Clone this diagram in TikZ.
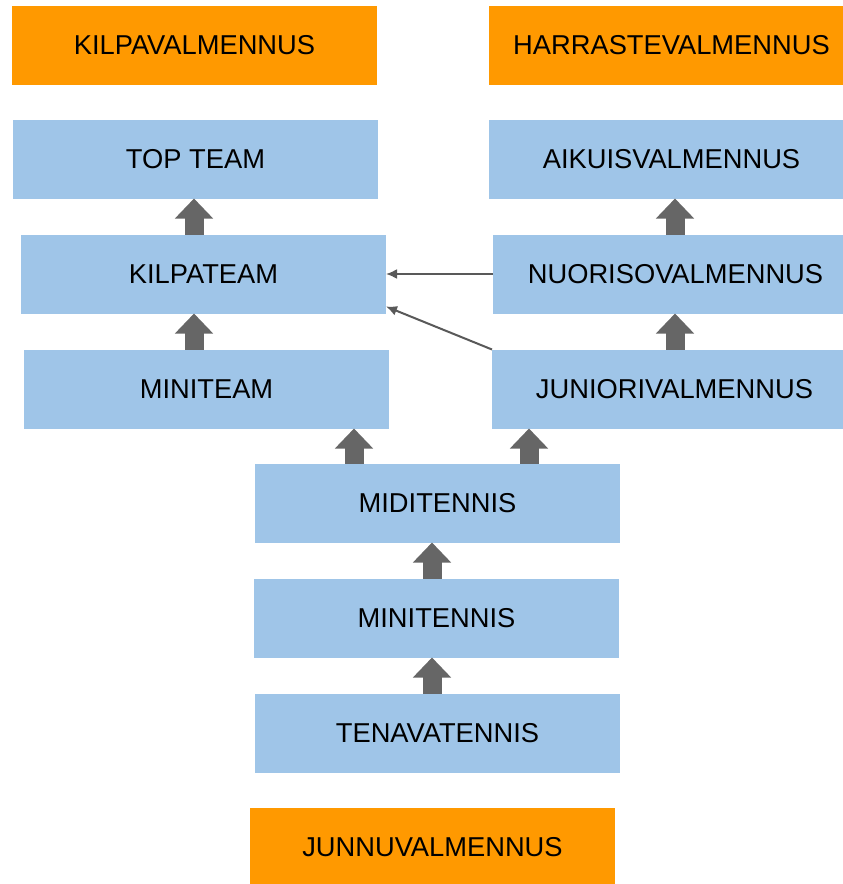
\documentclass[tikz,border=0pt]{standalone}
\usepackage{fontspec}
\setmainfont{Liberation Sans}
\usepackage{xcolor}
\usetikzlibrary{arrows.meta}

\definecolor{levelorange}{RGB}{255,153,0}
\definecolor{stageblue}{RGB}{159,197,232}
\definecolor{liftgray}{RGB}{102,102,102}
\definecolor{linkgray}{RGB}{89,89,89}

\begin{document}
\begin{tikzpicture}[x={(1pt,0pt)},y={(0pt,-1pt)},
  every node/.style={minimum width=365pt, minimum height=79pt, inner sep=0pt, outer sep=0pt, font=\fontsize{27.3}{31}\selectfont},
  level/.style={fill=levelorange},
  stage/.style={fill=stageblue},
  lift/.style={draw=liftgray, line width=19pt, -{Triangle[width=37pt,length=20pt]}},
  link/.style={draw=linkgray, line width=2pt, -{Latex[length=11pt,width=10pt]}}]
\clip (0,0) rectangle (843,884);
\fill[white] (0,0) rectangle (843,884);
\node[level] (kilpa) at (194.5,45) {KILPAVALMENNUS};
\node[level] (harraste) at (671.5,45) {HARRASTEVALMENNUS};
\node[stage] (topteam) at (195.5,159) {TOP TEAM};
\node[stage] (aikuis) at (671.5,159) {AIKUISVALMENNUS};
\node[stage] (kilpateam) at (203.5,274) {KILPATEAM};
\node[stage] (nuoriso) at (675.5,274) {NUORISOVALMENNUS};
\node[stage] (miniteam) at (206.5,389) {MINITEAM};
\node[stage] (junior) at (674.5,389) {JUNIORIVALMENNUS};
\node[stage] (miditennis) at (437.5,503) {MIDITENNIS};
\node[stage] (minitennis) at (436.5,618) {MINITENNIS};
\node[stage] (tenava) at (437.5,733) {TENAVATENNIS};
\node[level] (junnu) at (432.5,847) {JUNNUVALMENNUS};
\coordinate (leftcol) at (194,0);
\coordinate (rightcol) at (675,0);
\coordinate (midleft) at (354,0);
\coordinate (midright) at (529,0);
\coordinate (center) at (432,0);
\draw[lift] (kilpateam.north -| leftcol) -- (topteam.south -| leftcol);
\draw[lift] (miniteam.north -| leftcol) -- (kilpateam.south -| leftcol);
\draw[lift] (nuoriso.north -| rightcol) -- (aikuis.south -| rightcol);
\draw[lift] (junior.north -| rightcol) -- (nuoriso.south -| rightcol);
\draw[lift] (miditennis.north -| midleft) -- (miniteam.south -| midleft);
\draw[lift] (miditennis.north -| midright) -- (junior.south -| midright);
\draw[lift] (minitennis.north -| center) -- (miditennis.south -| center);
\draw[lift] (tenava.north -| center) -- (minitennis.south -| center);
\draw[link] (nuoriso.west) -- (kilpateam.east);
\draw[link] (junior.north west) -- ([yshift=7pt]kilpateam.south east);
\end{tikzpicture}
\end{document}
